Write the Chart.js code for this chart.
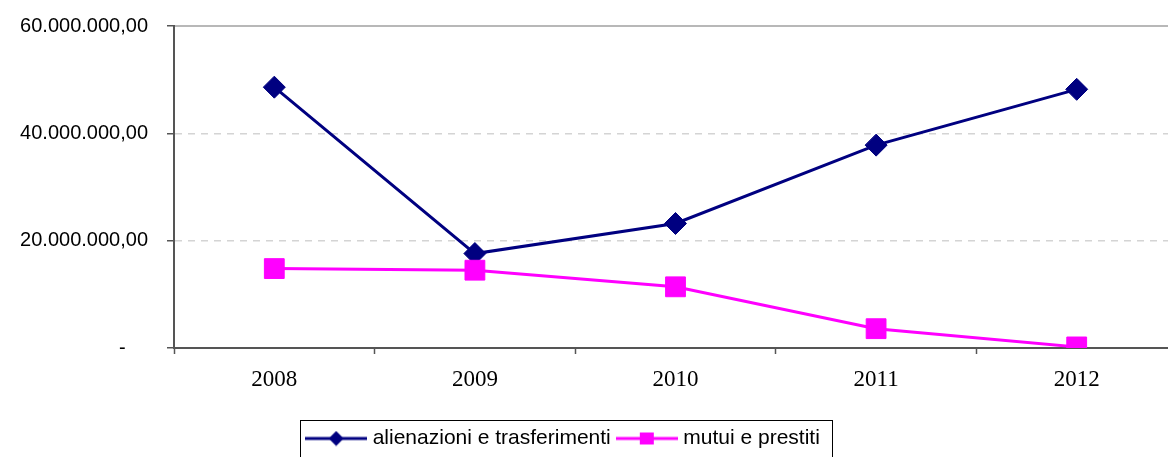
<!DOCTYPE html>
<html>
<head>
<meta charset="utf-8">
<script src="https://cdn.jsdelivr.net/npm/chart.js@4/dist/chart.umd.min.js"></script>
<style>
  html, body { margin: 0; padding: 0; background: #fff; overflow: hidden; }
  #wrap { position: absolute; left: -47px; top: 0; width: 1224px; height: 459px; }
</style>
</head>
<body>
<div id="wrap"><canvas id="grafico" width="1224" height="459"></canvas></div>
<script>
// anni e valori
var anni = ['2008', '2009', '2010', '2011', '2012'];
var alienazioni = [48600000, 17600000, 23200000, 37800000, 48200000];
var mutui = [14800000, 14500000, 11400000, 3600000, 200000];
var tickValori = [0, 20000000, 40000000, 60000000];

var NAVY = '#000080';
var MAGENTA = '#ff00ff';

function formatta(v) {
  if (v === 0) return '-    ';
  var s = Math.round(v).toString().replace(/\B(?=(\d{3})+(?!\d))/g, '.');
  return s + ',00';
}

// simbolo della legenda: linea con marcatore al centro
function simbolo(colore, forma) {
  var c = document.createElement('canvas');
  c.width = 62;
  c.height = 16;
  var ctx = c.getContext('2d');
  ctx.strokeStyle = colore;
  ctx.lineWidth = 3;
  ctx.beginPath();
  ctx.moveTo(0, 8);
  ctx.lineTo(62, 8);
  ctx.stroke();
  ctx.fillStyle = colore;
  ctx.beginPath();
  if (forma === 'rombo') {
    ctx.moveTo(31, 0.5);
    ctx.lineTo(38.5, 8);
    ctx.lineTo(31, 15.5);
    ctx.lineTo(23.5, 8);
    ctx.closePath();
  } else {
    ctx.rect(24, 2, 14, 12);
  }
  ctx.fill();
  return c;
}

var simboli = [simbolo(NAVY, 'rombo'), simbolo(MAGENTA, 'quadrato')];

// cornice intorno alla legenda
var cornice = {
  id: 'cornice',
  afterDraw: function (chart) {
    var leg = chart.legend;
    if (!leg || !leg.legendHitBoxes.length) return;
    var boxes = leg.legendHitBoxes;
    var left = boxes[0].left - 10;
    var last = boxes[boxes.length - 1];
    var right = last.left + last.width + 12;
    var top = boxes[0].top - 8;
    var bottom = boxes[0].top + boxes[0].height + 12;
    var ctx = chart.ctx;
    ctx.save();
    ctx.strokeStyle = '#000';
    ctx.lineWidth = 1;
    ctx.strokeRect(Math.round(left) + 0.5, Math.round(top) + 0.5, Math.round(right - left), Math.round(bottom - top));
    ctx.restore();
  }
};

var ctx = document.getElementById('grafico').getContext('2d');
new Chart(ctx, {
  type: 'line',
  data: {
    labels: anni,
    datasets: [
      {
        label: 'alienazioni e trasferimenti',
        data: alienazioni,
        borderColor: NAVY,
        backgroundColor: NAVY,
        borderWidth: 3,
        pointStyle: 'rectRot',
        pointRadius: 11,
        pointBorderWidth: 1,
        fill: false,
        tension: 0,
        order: 1
      },
      {
        label: 'mutui e prestiti',
        data: mutui,
        borderColor: MAGENTA,
        backgroundColor: MAGENTA,
        borderWidth: 3,
        pointStyle: 'rect',
        pointRadius: 14,
        pointBorderWidth: 1,
        fill: false,
        tension: 0,
        order: 0
      }
    ]
  },
  options: {
    responsive: false,
    animation: false,
    layout: { autoPadding: false, padding: { left: 0, right: 0, top: 0, bottom: 0 } },
    plugins: {
      tooltip: { enabled: false },
      legend: {
        position: 'bottom',
        labels: {
          usePointStyle: true,
          pointStyleWidth: 52,
          padding: 10,
          color: '#000',
          font: { family: 'Liberation Sans, Arial, sans-serif', size: 21 },
          generateLabels: function (chart) {
            return chart.data.datasets.map(function (ds, i) {
              return {
                text: ds.label,
                pointStyle: simboli[i],
                fillStyle: ds.borderColor,
                strokeStyle: ds.borderColor,
                lineWidth: 0,
                hidden: false,
                datasetIndex: i,
                fontColor: '#000'
              };
            });
          }
        }
      }
    },
    scales: {
      x: {
        type: 'category',
        offset: true,
        grid: {
          offset: true,
          drawOnChartArea: false,
          drawTicks: true,
          tickLength: 6,
          tickColor: '#555',
          tickWidth: 1.5
        },
        border: { display: true, color: '#555', width: 2 },
        ticks: {
          color: '#000',
          padding: 12,
          font: { family: 'Liberation Serif, Times New Roman, serif', size: 23 }
        },
        afterFit: function (scale) {
          scale.height = 70;
          scale.paddingLeft = 0;
          scale.paddingRight = 0;
        }
      },
      top: {
        type: 'category',
        position: 'top',
        labels: anni,
        offset: true,
        grid: { display: false, drawTicks: false },
        border: { display: true, color: '#b8b8b8', width: 2 },
        ticks: { display: false },
        afterFit: function (scale) {
          scale.height = 26;
          scale.paddingLeft = 0;
          scale.paddingRight = 0;
        }
      },
      y: {
        min: 0,
        max: 60000000,
        afterBuildTicks: function (scale) {
          scale.ticks = tickValori.map(function (v) { return { value: v }; });
        },
        grid: {
          color: function (c) {
            var v = c.tick ? c.tick.value : 0;
            return (v === 0 || v === 60000000) ? 'rgba(0,0,0,0)' : '#d4d4d4';
          },
          lineWidth: 1.5,
          tickColor: '#555',
          tickLength: 7,
          tickWidth: 1.5
        },
        border: { display: true, color: '#555', width: 2, dash: [7, 6] },
        ticks: {
          color: '#000',
          padding: 19,
          font: { family: 'Liberation Sans, Arial, sans-serif', size: 20 },
          callback: function (v) { return formatta(v); }
        },
        afterFit: function (scale) {
          scale.width = 221;
          scale.paddingTop = 0;
          scale.paddingBottom = 0;
        }
      }
    }
  },
  plugins: [cornice]
});
</script>
</body>
</html>
